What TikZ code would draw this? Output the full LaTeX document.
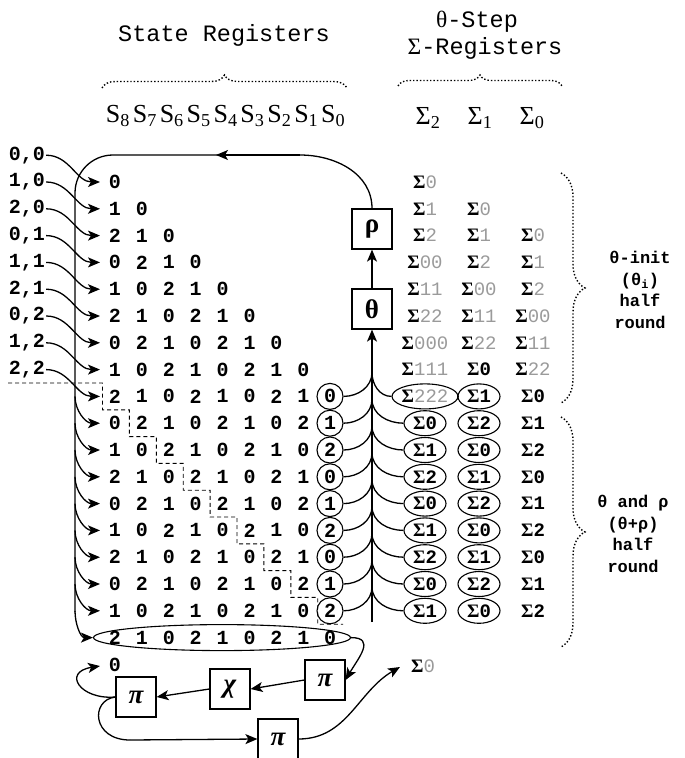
\documentclass[tikz,border=0pt]{standalone}
\usepackage{fontspec}
\setmainfont{Liberation Serif}
\setmonofont{Liberation Mono}
\usetikzlibrary{arrows.meta,shapes.geometric,decorations.pathreplacing}
\definecolor{faded}{HTML}{9A9A9A}
\newcommand{\sgm}[1]{\textbf{Σ}\texttt{\bfseries #1}}
\newcommand{\sgmg}[1]{\textbf{Σ}\textcolor{faded}{\texttt{#1}}}

\begin{document}
\begin{tikzpicture}[x=1pt,y=1pt,
 every node/.style={inner sep=1pt},
 title/.style={font=\fontsize{23.5}{26}\selectfont\ttfamily},
 dig/.style={font=\fontsize{20}{20}\selectfont\ttfamily\bfseries},
 lab/.style={font=\fontsize{20}{20}\selectfont\ttfamily\bfseries},
 reg/.style={dig,circle,draw,line width=1.1pt,minimum size=26pt,inner sep=0pt},
 head/.style={font=\fontsize{26}{26}\selectfont},
 sig/.style={font=\fontsize{19}{19}\selectfont},
 sigreg/.style={sig,ellipse,draw,line width=1.1pt,minimum width=42pt,minimum height=25pt,inner sep=0pt},
 op/.style={rectangle,draw,line width=1.2pt,minimum size=40pt,inner sep=0pt,font=\fontsize{27}{27}\selectfont\bfseries},
 note/.style={align=center,font=\fontsize{17}{21.5}\selectfont\ttfamily\bfseries},
 wire/.style={line width=1.3pt},
 arr/.style={wire,-{Stealth[length=12pt,width=10pt,inset=3pt]}},
 dbrace/.style={dotted,line width=1.4pt,decorate,decoration={brace,amplitude=#1}}]
\useasboundingbox (0,0) rectangle (685,-758);

% headings
\node[title] (tstate) at (224,-35) {State Registers};
\node[title] (tstep) at (477,-22) {{\rmfamily θ}-Step};
\node[title] (tsig) at (485,-48) {{\rmfamily Σ}-Registers};
\draw[dbrace=13pt] (102,-88) -- (347,-88);
\draw[dbrace=11pt] (398,-86) -- (562,-86);
\foreach \s in {0,...,8}
  \node[head] (S\s) at ({118+26.9*(8-\s)},-116) {S\textsubscript{\s}};
\node[head] (h2) at (428,-118) {Σ\textsubscript{2}};
\node[head] (h1) at (480,-118) {Σ\textsubscript{1}};
\node[head] (h0) at (532,-118) {Σ\textsubscript{0}};

% state register rows
\foreach \i in {0,...,17}{
  \pgfmathtruncatemacro\jmax{min(\i,7)}
  \foreach \j in {0,...,\jmax}{
    \pgfmathtruncatemacro\v{mod(\i-\j,3)}
    \node[dig] (d\i-\j) at ({115+26.9*\j},{-182-26.8*\i}) {\v};
  }
}
\foreach \i in {8,...,16}{
  \pgfmathtruncatemacro\v{mod(\i-8,3)}
  \node[reg] (c\i) at (330,{-182-26.8*\i}) {\v};
}
\node[dig] (d17-8) at (330,-637.6) {0};
\node[ellipse,draw,line width=1.1pt,minimum width=257pt,minimum height=26pt] (ell) at (222,-637.6) {};
\node[dig] (zero) at (115,-665) {0};

% staircase
\draw[dash pattern=on 4pt off 3pt,line width=0.9pt] (8,-383)
  \foreach \k in {0,...,8}{ -- ({102.5+26.9*\k},{-383-26.8*\k}) -- ({102.5+26.9*\k},{-383-26.8*(\k+1)}) }
  -- (343,-624.2);

% inputs
\foreach \i in {0,...,16}
  \coordinate (in\i) at (100,{-182-26.8*\i});
\coordinate (in18) at (100,-666);
\foreach \a/\b [count=\k from 0] in {0/0,1/0,2/0,0/1,1/1,2/1,0/2,1/2,2/2}{
  \node[lab] (lab\k) at (27,{-155.2-26.8*\k}) {\a,\b};
  \draw[arr] (lab\k.east) to[out=0,in=180] (in\k);
}

% theta / rho
\node[op] (rho) at (372,-229) {ρ};
\node[op] (theta) at (372,-309) {θ};
\coordinate (topR) at (300,-155);
\coordinate (topM) at (216,-155);
\coordinate (topL) at (113,-155);
\coordinate (sideT) at (75,-193);
\coordinate (sideB) at (75,-612);
\draw[wire] (rho.north) to[out=90,in=0] (topR) -- (topL) to[out=180,in=90] (sideT) -- (sideB);
\draw[arr] (topR) -- (topM);
\foreach \i in {9,...,17}{
  \coordinate (br\i) at (75,{-182-26.8*(\i-1)});
}
\foreach \i in {9,...,16}
  \draw[arr] (br\i) to[out=-90,in=180] (in\i);
\draw[arr] (br17) to[out=-90,in=180] (ell.west);

% sigma registers
\foreach \t [count=\k from 0] in {0,1,2,00,11,22,000,111}
  \node[sig] (s2-\k) at (425,{-182-26.8*\k}) {\sgmg{\t}};
\foreach \t [count=\k from 1] in {0,1,2,00,11,22}
  \node[sig] (s1-\k) at (479,{-182-26.8*\k}) {\sgmg{\t}};
\node[sig] (s1-7) at (479,-369.6) {\sgm{0}};
\foreach \t [count=\k from 2] in {0,1,2,00,11,22}
  \node[sig] (s0-\k) at (533,{-182-26.8*\k}) {\sgmg{\t}};
\node[sigreg,minimum width=51pt] (s2-8) at (425,-396.4) {\sgmg{222}};
\node[sigreg] (s1-8) at (479,-396.4) {\sgm{1}};
\node[sig] (s0-8) at (533,-396.4) {\sgm{0}};
\draw[line width=1.1pt] (s2-8) -- (s1-8);
\foreach \i in {9,...,16}{
  \pgfmathtruncatemacro\a{mod(\i,3)}
  \pgfmathtruncatemacro\b{mod(\i+2,3)}
  \pgfmathtruncatemacro\c{mod(\i+1,3)}
  \node[sigreg] (s2-\i) at (425,{-182-26.8*\i}) {\sgm{\a}};
  \node[sigreg] (s1-\i) at (479,{-182-26.8*\i}) {\sgm{\b}};
  \node[sig] (s0-\i) at (533,{-182-26.8*\i}) {\sgm{\c}};
}
\node[sig] (sbot) at (423,-666) {\sgmg{0}};

% fan into theta
\foreach \i in {8,...,16}{
  \coordinate (t\i) at (372,{-182-26.8*\i+24});
  \draw[wire] (c\i.east) to[out=0,in=-90] (t\i);
  \draw[wire] (s2-\i.west) to[out=180,in=-90] (t\i);
}
\coordinate (tb) at (372,-622);
\draw[arr] (tb) -- (theta.south);
\draw[arr] (theta.north) -- (rho.south);

% braces on the right
\draw[dbrace=24pt] (561,-173) -- (561,-403);
\draw[dbrace=24pt] (561,-417) -- (561,-647);
\node[note] (init) at (640,-290) {θ-init\\(θ\textsubscript{i})\\half\\round};
\node[note] (both) at (633,-534) {θ and ρ\\(θ+ρ)\\half\\round};

% pi chi pi
\node[op] (piA) at (325,-680) {\itshape π};
\node[op] (chi) at (230,-689) {\itshape χ};
\node[op] (piB) at (136,-697) {\itshape π};
\node[op] (piC) at (278,-739) {\itshape π};
\coordinate (bend) at (130,-740);
\coordinate (sin) at (400,-667);
\draw[arr] (ell.east) to[out=0,in=60,looseness=1.5] (piA.east);
\draw[arr] (piA.west) -- (chi.east);
\draw[arr] (chi.west) -- (piB.east);
\draw[arr] (piB.west) .. controls (80,-700) and (62,-672) .. (in18);
\draw[wire] (piB.west) .. controls (90,-700) and (92,-740) .. (bend);
\draw[arr] (bend) -- (piC.west);
\draw[arr] (piC.east) to[out=0,in=210] (sin);
\end{tikzpicture}
\end{document}
